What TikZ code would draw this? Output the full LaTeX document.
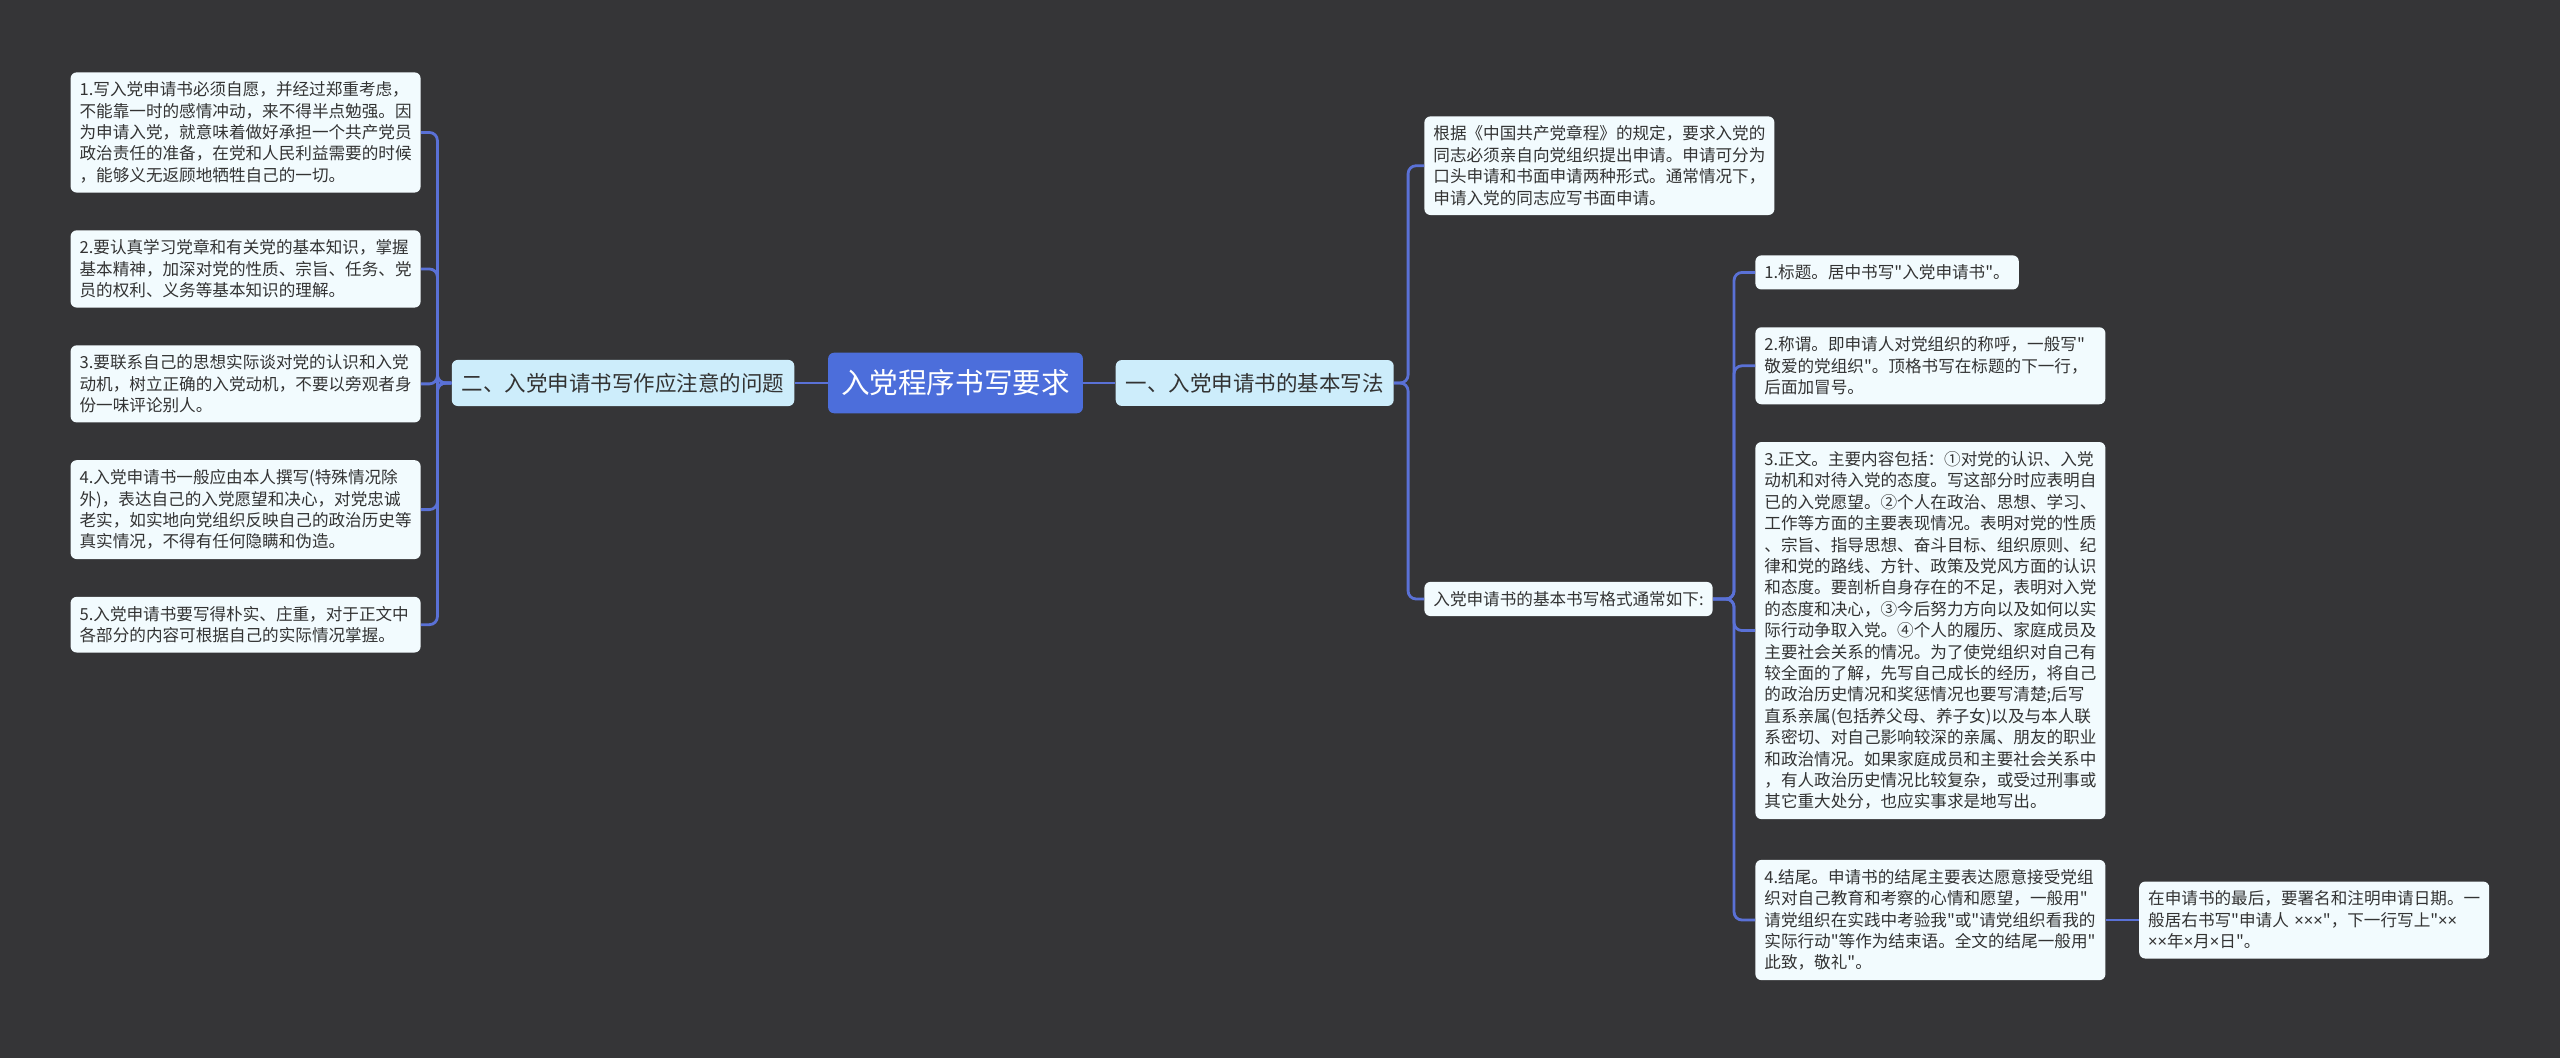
\documentclass[tikz,border=0pt]{standalone}
\usepackage{fontspec}
\setmainfont{Noto Sans CJK SC}[Ligatures=TeXOff]
\newfontfamily\latinsans{Noto Sans}
\usepackage{tikz}
\usetikzlibrary{positioning}

\definecolor{bgdark}{HTML}{353537}
\definecolor{rootblue}{HTML}{4C6EDB}
\definecolor{branchblue}{HTML}{CDEDFB}
\definecolor{leaffill}{HTML}{F2FBFE}
\definecolor{linkblue}{HTML}{5A71D6}
\definecolor{inktext}{HTML}{333333}

\newcommand\tms{{\latinsans ×}}

\begin{document}
\begin{tikzpicture}[x=0.5pt, y=-0.5pt, node distance=18.5pt,
    topic/.style={fill=rootblue, text=white, rounded corners=3pt, inner xsep=6.5pt, inner ysep=8.5pt, font=\fontsize{14.3}{17}\selectfont},
    branch/.style={fill=branchblue, text=inktext, rounded corners=3pt, inner xsep=5pt, inner ysep=6.5pt, font=\fontsize{10.75}{13}\selectfont},
    leaf/.style={fill=leaffill, text=inktext, rounded corners=3pt, inner xsep=4.5pt, inner ysep=4.7pt, align=left, font=\fontsize{8.3}{10.7}\selectfont},
    wide/.style={leaf, text width=166pt},
    link/.style={draw=linkblue, line width=1.4pt, rounded corners=4pt}]
    \useasboundingbox (0,0) rectangle (2560,1058);
    \fill[bgdark] (0,0) rectangle (2560,1058);

    \node[topic] (root) at (955.5,383) {入党程序书写要求};
    \node[branch, left=16.5pt of root] (two) {二、入党申请书写作应注意的问题};
    \node[branch, right=16pt of root] (one) {一、入党申请书的基本写法};

    % left column
    \node[wide, anchor=north east] (l1) at (421,72) {1.写入党申请书必须自愿，并经过郑重考虑，\\不能靠一时的感情冲动，来不得半点勉强。因\\为申请入党，就意味着做好承担一个共产党员\\政治责任的准备，在党和人民利益需要的时候\\，能够义无返顾地牺牲自己的一切。};
    \node[wide, below=of l1] (l2) {2.要认真学习党章和有关党的基本知识，掌握\\基本精神，加深对党的性质、宗旨、任务、党\\员的权利、义务等基本知识的理解。};
    \node[wide, below=of l2] (l3) {3.要联系自己的思想实际谈对党的认识和入党\\动机，树立正确的入党动机，不要以旁观者身\\份一味评论别人。};
    \node[wide, below=of l3] (l4) {4.入党申请书一般应由本人撰写(特殊情况除\\外)，表达自己的入党愿望和决心，对党忠诚\\老实，如实地向党组织反映自己的政治历史等\\真实情况，不得有任何隐瞒和伪造。};
    \node[wide, below=of l4] (l5) {5.入党申请书要写得朴实、庄重，对于正文中\\各部分的内容可根据自己的实际情况掌握。};

    % right column
    \node[wide, anchor=north west] (r0) at (1424,116) {根据《中国共产党章程》的规定，要求入党的\\同志必须亲自向党组织提出申请。申请可分为\\口头申请和书面申请两种形式。通常情况下，\\申请入党的同志应写书面申请。};
    \node[leaf, anchor=west] (rf) at (1424,599) {入党申请书的基本书写格式通常如下:};

    \node[leaf, anchor=north west] (r1) at (1755,255) {1.标题。居中书写"入党申请书"。};
    \node[wide, below=of r1.south west, anchor=north west] (r2) {2.称谓。即申请人对党组织的称呼，一般写"\\敬爱的党组织"。顶格书写在标题的下一行，\\后面加冒号。};
    \node[wide, below=of r2] (r3) {3.正文。主要内容包括：①对党的认识、入党\\动机和对待入党的态度。写这部分时应表明自\\已的入党愿望。②个人在政治、思想、学习、\\工作等方面的主要表现情况。表明对党的性质\\、宗旨、指导思想、奋斗目标、组织原则、纪\\律和党的路线、方针、政策及党风方面的认识\\和态度。要剖析自身存在的不足，表明对入党\\的态度和决心，③今后努力方向以及如何以实\\际行动争取入党。④个人的履历、家庭成员及\\主要社会关系的情况。为了使党组织对自己有\\较全面的了解，先写自己成长的经历，将自己\\的政治历史情况和奖惩情况也要写清楚;后写\\直系亲属(包括养父母、养子女)以及与本人联\\系密切、对自己影响较深的亲属、朋友的职业\\和政治情况。如果家庭成员和主要社会关系中\\，有人政治历史情况比较复杂，或受过刑事或\\其它重大处分，也应实事求是地写出。};
    \node[wide, below=20pt of r3] (r4) {4.结尾。申请书的结尾主要表达愿意接受党组\\织对自己教育和考察的心情和愿望，一般用"\\请党组织在实践中考验我"或"请党组织看我的\\实际行动"等作为结束语。全文的结尾一般用"\\此致，敬礼"。};
    \node[wide, right=16.5pt of r4] (r5) {在申请书的最后，要署名和注明申请日期。一\\般居右书写"申请人~\tms\tms\tms"，下一行写上"\tms\tms\\\tms\tms 年\tms 月\tms 日"。};

    % connectors
    \draw[link] (root.west) -- (two.east);
    \draw[link] (root.east) -- (one.west);

    \coordinate (lfork) at ([xshift=-7pt]two.west);
    \foreach \n in {l1,l2,l3,l4,l5}
        \draw[link] (two.west) -- (lfork) |- (\n.east);

    \coordinate (rfork) at ([xshift=7pt]one.east);
    \foreach \n in {r0,rf}
        \draw[link] (one.east) -- (rfork) |- (\n.west);

    \coordinate (ffork) at ([xshift=10.5pt]rf.east);
    \foreach \n in {r1,r2,r3,r4}
        \draw[link] (rf.east) -- (ffork) |- (\n.west);

    \draw[link] (r4.east) -- (r5.west);
\end{tikzpicture}
\end{document}
